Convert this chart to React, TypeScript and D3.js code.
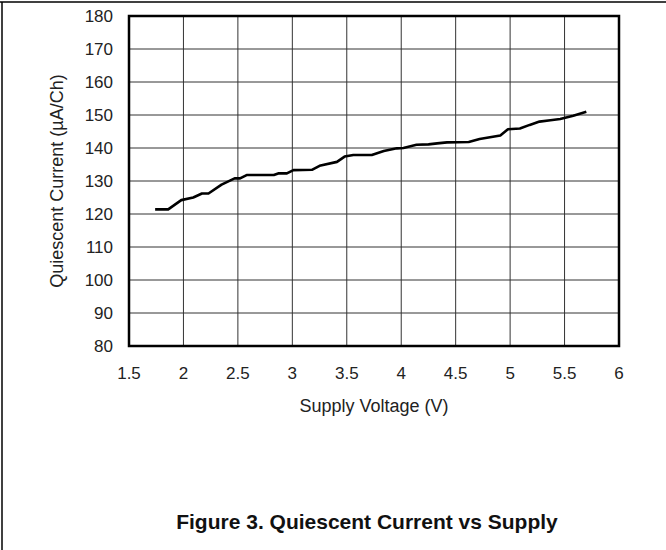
import React, { useEffect, useRef } from "react";
import * as d3 from "d3";

const WIDTH = 666;
const HEIGHT = 550;

// supply voltage (V) vs quiescent current (uA/Ch)
const voltage = [
  1.74, 1.86, 1.98, 2.09, 2.17, 2.23, 2.35, 2.47, 2.52, 2.58, 2.83, 2.87, 2.95,
  3.01, 3.18, 3.25, 3.41, 3.48, 3.56, 3.73, 3.84, 3.96, 4.02, 4.14, 4.25, 4.33,
  4.42, 4.62, 4.72, 4.91, 4.98, 5.09, 5.18, 5.27, 5.37, 5.46, 5.58, 5.7,
];
const current = [
  121.4, 121.4, 124.2, 125.0, 126.2, 126.2, 128.9, 130.8, 130.8, 131.8, 131.8,
  132.3, 132.3, 133.3, 133.4, 134.6, 135.8, 137.4, 137.9, 137.9, 139.1, 139.9,
  140.0, 141.0, 141.1, 141.4, 141.7, 141.8, 142.7, 143.8, 145.7, 145.9, 147.0,
  148.0, 148.4, 148.8, 149.8, 151.0,
];

const xTicks = [1.5, 2, 2.5, 3, 3.5, 4, 4.5, 5, 5.5, 6];
const yTicks = [80, 90, 100, 110, 120, 130, 140, 150, 160, 170, 180];

const X_TITLE = "Supply Voltage (V)";
const Y_TITLE = "Quiescent Current (µA/Ch)";
const CAPTION = "Figure 3. Quiescent Current vs Supply";

const FONT = "'Liberation Sans', Arial, sans-serif";

export default function App() {
  const ref = useRef<SVGSVGElement | null>(null);

  useEffect(() => {
    const svg = d3.select(ref.current);
    svg.selectAll("*").remove();

    const margin = { top: 16, left: 129, right: 47, bottom: 204 };
    const w = WIDTH - margin.left - margin.right;
    const h = HEIGHT - margin.top - margin.bottom;

    const x = d3.scaleLinear().domain([1.5, 6]).range([0, w]);
    const y = d3.scaleLinear().domain([80, 180]).range([h, 0]);

    // outer frame (top and left only)
    svg.append("line").attr("x1", 0).attr("x2", WIDTH).attr("y1", 2).attr("y2", 2)
      .attr("stroke", "#000").attr("stroke-width", 1.5);
    svg.append("line").attr("x1", 2).attr("x2", 2).attr("y1", 2).attr("y2", HEIGHT)
      .attr("stroke", "#000").attr("stroke-width", 1.5);

    const g = svg.append("g").attr("transform", `translate(${margin.left},${margin.top})`);

    // grid
    g.selectAll("line.gx").data(xTicks.slice(1, -1)).enter().append("line")
      .attr("x1", (d) => x(d)).attr("x2", (d) => x(d))
      .attr("y1", 0).attr("y2", h)
      .attr("stroke", "#333").attr("stroke-width", 1);
    g.selectAll("line.gy").data(yTicks.slice(1, -1)).enter().append("line")
      .attr("y1", (d) => y(d)).attr("y2", (d) => y(d))
      .attr("x1", 0).attr("x2", w)
      .attr("stroke", "#333").attr("stroke-width", 1);

    // data line
    const pts = voltage.map((v, i) => [v, current[i]] as [number, number]);
    g.append("path")
      .datum(pts)
      .attr("d", d3.line<[number, number]>().x((d) => x(d[0])).y((d) => y(d[1])))
      .attr("fill", "none")
      .attr("stroke", "#000")
      .attr("stroke-width", 2.6)
      .attr("stroke-linejoin", "round");

    // plot border
    g.append("rect").attr("x", 0).attr("y", 0).attr("width", w).attr("height", h)
      .attr("fill", "none").attr("stroke", "#000").attr("stroke-width", 2.5);

    // tick labels
    g.selectAll("text.xt").data(xTicks).enter().append("text")
      .attr("x", (d) => x(d)).attr("y", h + 33)
      .attr("text-anchor", "middle")
      .attr("font-family", FONT).attr("font-size", 17).attr("fill", "#222")
      .text((d) => d3.format("")(d));
    g.selectAll("text.yt").data(yTicks).enter().append("text")
      .attr("x", -16).attr("y", (d) => y(d)).attr("dy", "0.36em")
      .attr("text-anchor", "end")
      .attr("font-family", FONT).attr("font-size", 17).attr("fill", "#222")
      .text((d) => d);

    // axis titles
    g.append("text").attr("x", w / 2).attr("y", h + 66)
      .attr("text-anchor", "middle")
      .attr("font-family", FONT).attr("font-size", 18).attr("fill", "#222")
      .text(X_TITLE);
    g.append("text")
      .attr("transform", `translate(${63 - margin.left},${h / 2}) rotate(-90)`)
      .attr("text-anchor", "middle")
      .attr("font-family", FONT).attr("font-size", 18).attr("fill", "#222")
      .text(Y_TITLE);

    // caption
    svg.append("text").attr("x", 367).attr("y", 529)
      .attr("text-anchor", "middle")
      .attr("font-family", FONT).attr("font-size", 21).attr("font-weight", "bold")
      .attr("fill", "#111")
      .text(CAPTION);
  }, []);

  return (
    <svg
      ref={ref}
      width={WIDTH}
      height={HEIGHT}
      style={{ position: "absolute", left: 0, top: 0, background: "#fff" }}
    />
  );
}
